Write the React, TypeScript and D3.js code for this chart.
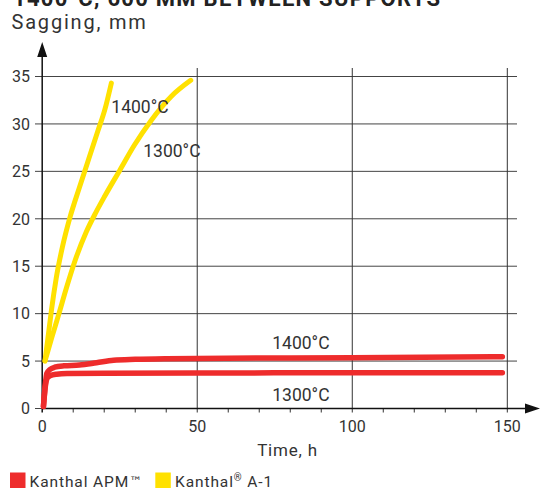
import React from "react";
import * as d3 from "d3";

// time (h) / sagging (mm)
const apm1400: [number, number][] = [
  [0.4, 0.2], [1.0, 2.5], [1.5, 3.7], [2.5, 4.1], [4, 4.35], [7, 4.5], [12, 4.58],
  [17.5, 4.82], [23, 5.08], [30, 5.18], [40, 5.25], [50, 5.28], [100, 5.36], [148.4, 5.46],
];
const apm1300: [number, number][] = [
  [0.4, 0.2], [1.0, 2.3], [1.6, 3.2], [2.5, 3.45], [4.6, 3.62], [8, 3.7], [20, 3.72],
  [50, 3.75], [100, 3.76], [148.4, 3.77],
];
const a1_1400: [number, number][] = [
  [0.9, 5.0], [2.0, 7.8], [3.0, 10.4], [4.5, 13.7], [6.5, 17.0], [9.0, 20.2], [12.0, 23.3],
  [15.0, 26.3], [18.0, 29.3], [20.2, 31.5], [22.3, 34.3],
];
const a1_1300: [number, number][] = [
  [0.9, 5.0], [3.2, 7.6], [5.4, 10.0], [7.8, 12.7], [10.5, 15.5], [14.2, 18.6], [17.2, 20.6],
  [20.2, 22.4], [25, 25.1], [29.8, 27.8], [35.2, 30.4], [41.6, 32.9], [47.9, 34.6],
];

const yTicks = [0, 5, 10, 15, 20, 25, 30, 35];
const xMajor = [0, 50, 100, 150];
const xMinor = d3.range(10, 150, 10).filter((t) => t % 50 !== 0);

const labels = [
  { text: "1400°C", t: 22.3, v: 31.1 },
  { text: "1300°C", t: 32.6, v: 26.5 },
  { text: "1400°C", t: 74.2, v: 6.27 },
  { text: "1300°C", t: 74.2, v: 0.8 },
];

const RED = "#ee2c2c";
const YELLOW = "#ffe100";
const TEXT = "#333";
const FONT = "Roboto, sans-serif";

const x = d3.scaleLinear().domain([0, 150]).range([42.2, 507.3]);
const y = d3.scaleLinear().domain([0, 35]).range([408.5, 76.5]);

const line = d3
  .line<[number, number]>()
  .x((d) => x(d[0]))
  .y((d) => y(d[1]))
  .curve(d3.curveMonotoneX);

const App = () => {
  const x0 = x(0);
  const y0 = y(0);
  return (
    <svg
      width={540}
      height={491}
      style={{ position: "absolute", left: 0, top: 0, background: "#fff" }}
      fontFamily={FONT}
    >
      <text x={13} y={6} fontSize={22} fontWeight={700} fill="#222" textLength={427} lengthAdjust="spacing">
        1400°C, 600 MM BETWEEN SUPPORTS
      </text>
      <text x={11.5} y={29} fontSize={20} fill={TEXT} letterSpacing={1.8}>
        Sagging, mm
      </text>

      {/* grid */}
      {yTicks.filter((v) => v > 0).map((v) => (
        <line key={"h" + v} x1={x0} x2={517} y1={y(v)} y2={y(v)} stroke="#444" strokeWidth={1} />
      ))}
      {yTicks.map((v) => (
        <line key={"yt" + v} x1={35} x2={x0} y1={y(v)} y2={y(v)} stroke="#444" strokeWidth={1} />
      ))}
      {xMajor.filter((t) => t > 0).map((t) => (
        <line key={"v" + t} x1={x(t)} x2={x(t)} y1={68} y2={y0 + 4} stroke="#333" strokeWidth={1} />
      ))}
      {xMinor.map((t) => (
        <line key={"m" + t} x1={x(t)} x2={x(t)} y1={y0} y2={y0 + 4} stroke="#333" strokeWidth={1} />
      ))}

      {/* axes */}
      <line x1={x0} x2={x0} y1={y0 + 4} y2={50} stroke="#111" strokeWidth={1.5} />
      <path d={`M${x0},42 L${x0 - 5},57 L${x0 + 5},57 Z`} fill="#111" />
      <line x1={x0} x2={530} y1={y0} y2={y0} stroke="#111" strokeWidth={1.5} />
      <path d={`M540,${y0} L525,${y0 - 5} L525,${y0 + 5} Z`} fill="#111" />

      {/* tick labels */}
      {yTicks.map((v) => (
        <text key={"yl" + v} x={30} y={y(v)} dy="0.36em" textAnchor="end" fontSize={16} fill={TEXT}>
          {v}
        </text>
      ))}
      {xMajor.map((t) => (
        <text key={"xl" + t} x={x(t)} y={432} textAnchor="middle" fontSize={16} fill={TEXT}>
          {t}
        </text>
      ))}
      <text x={287.5} y={456} textAnchor="middle" fontSize={17} fill={TEXT} letterSpacing={0.8}>
        Time, h
      </text>

      {/* series */}
      {[a1_1400, a1_1300].map((d, i) => (
        <path key={"a" + i} d={line(d) || ""} fill="none" stroke={YELLOW} strokeWidth={5} strokeLinecap="round" strokeLinejoin="round" />
      ))}
      {[apm1400, apm1300].map((d, i) => (
        <path key={"r" + i} d={line(d) || ""} fill="none" stroke={RED} strokeWidth={5.5} strokeLinecap="round" strokeLinejoin="round" />
      ))}

      {labels.map((l, i) => (
        <text key={"lb" + i} x={x(l.t)} y={y(l.v)} fontSize={17.5} fill={TEXT}>
          {l.text}
        </text>
      ))}

      {/* legend */}
      <rect x={10} y={472.5} width={15.5} height={15.5} fill={RED} />
      <text x={29.5} y={487} fontSize={15.5} fill={TEXT} letterSpacing={0.9}>
        Kanthal APM
        <tspan fontFamily="DejaVu Sans" fontSize={13} dy={-1} letterSpacing={0}>™</tspan>
      </text>
      <rect x={155.3} y={472.5} width={15.5} height={15.5} fill={YELLOW} />
      <text x={175} y={487} fontSize={15.5} fill={TEXT} letterSpacing={0.9}>
        Kanthal
        <tspan fontSize={10} dy={-6}>®</tspan>
        <tspan dy={6}> A-1</tspan>
      </text>
    </svg>
  );
};

export default App;
